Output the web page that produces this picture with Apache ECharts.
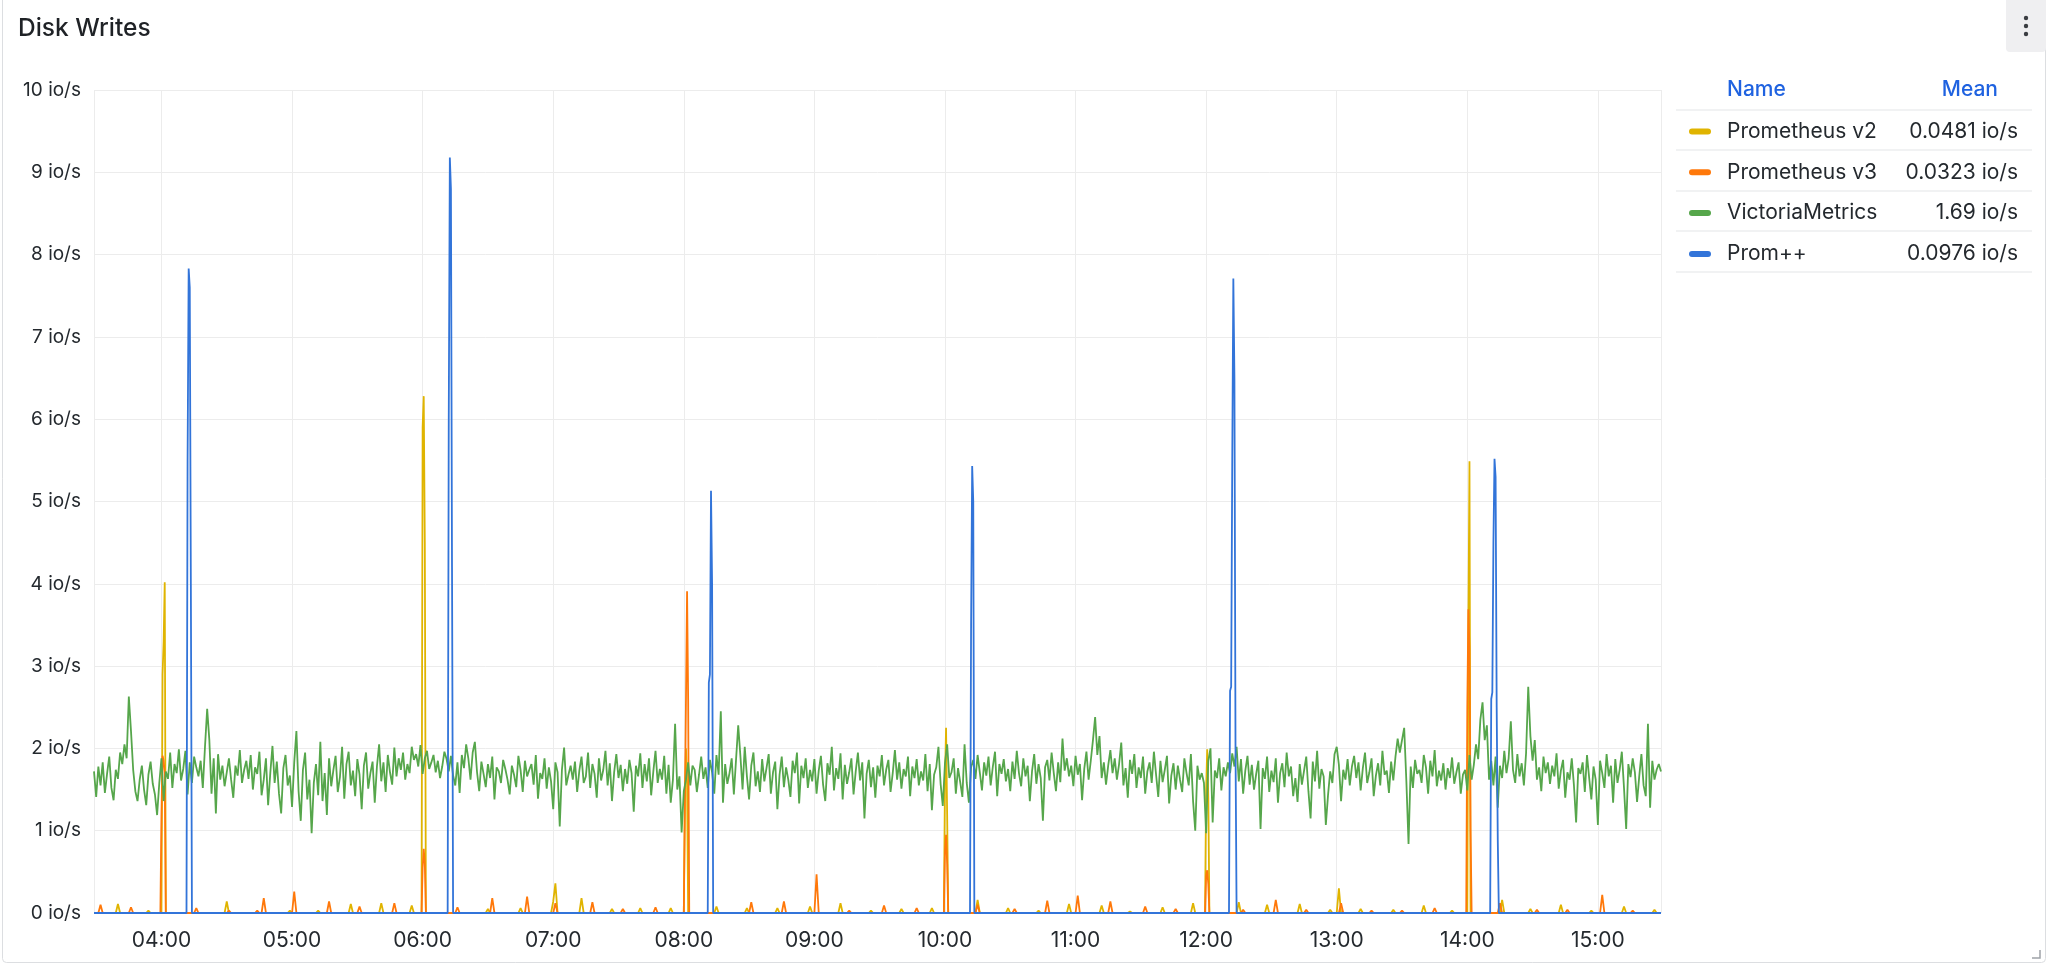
<!DOCTYPE html>
<html>
<head>
<meta charset="utf-8">
<script src="https://cdn.jsdelivr.net/npm/echarts@6/dist/echarts.min.js"></script>
<style>
html,body{margin:0;padding:0;background:#fff;}
#chart{width:2048px;height:964px;}
</style>
</head>
<body>
<div id="chart"></div>
<script>
// ---------------- DATA ----------------
const panelTitle = 'Disk Writes';
const seriesNames = ['Prometheus v2', 'Prometheus v3', 'VictoriaMetrics', 'Prom++'];
const seriesColors = ['#E0B400', '#FF780A', '#56A64B', '#3274D9'];
const legendMeans = ['0.0481 io/s', '0.0323 io/s', '1.69 io/s', '0.0976 io/s'];
const yTicks = [0, 1, 2, 3, 4, 5, 6, 7, 8, 9, 10];
const xRange = ['03:29', '15:29'];

// VictoriaMetrics: one sample per minute starting at 03:29
const vmStart = '03:29';
const vmStepMinutes = 1;
const vmValues = [
1.72,1.41,1.78,1.55,1.83,1.46,1.69,1.90,1.52,1.37,
1.74,1.63,1.95,1.81,2.05,1.88,2.63,2.21,1.74,1.48,
1.36,1.62,1.79,1.50,1.31,1.68,1.84,1.57,1.44,1.19,
1.58,1.88,1.36,1.72,1.63,1.95,1.52,1.81,1.70,1.99,
1.61,1.75,1.97,1.44,1.83,1.58,1.90,1.77,1.66,1.85,
1.52,2.02,2.48,2.10,1.45,1.88,1.21,1.93,1.62,1.79,
1.54,1.71,1.88,1.62,1.40,1.79,1.67,1.98,1.58,1.74,
1.85,1.63,1.92,1.50,1.77,1.69,1.96,1.43,1.62,1.88,
1.31,1.70,2.03,1.58,1.84,1.45,1.21,1.76,1.92,1.55,
1.67,1.29,1.83,2.21,1.48,1.12,1.74,1.95,1.38,1.62,
0.97,1.58,1.81,1.43,2.08,1.36,1.70,1.19,1.88,1.54,
1.74,1.91,1.47,1.65,2.02,1.39,1.81,1.96,1.55,1.73,
1.42,1.87,1.68,1.26,1.79,1.95,1.51,1.70,1.84,1.34,
1.78,2.05,1.60,1.83,1.47,1.92,1.71,1.56,2.01,1.66,
1.88,1.74,1.95,1.62,1.81,1.70,2.02,1.86,1.93,1.78,
2.04,1.69,1.88,1.97,1.75,1.83,1.92,1.71,1.85,1.64,
1.78,1.96,1.87,1.72,1.91,1.67,1.55,1.83,1.46,1.92,
1.76,2.05,1.88,1.62,1.95,2.08,1.71,1.48,1.84,1.69,
1.53,1.81,1.64,1.90,1.38,1.77,1.72,1.58,1.86,1.75,
1.62,1.44,1.79,1.68,1.53,1.91,1.74,1.47,1.85,1.66,
1.74,1.81,1.56,1.92,1.39,1.70,1.63,1.88,1.51,1.77,
1.60,1.26,1.83,1.71,1.05,1.74,2.01,1.55,1.68,1.79,
1.62,1.84,1.47,1.73,1.90,1.58,1.66,1.95,1.52,1.81,
1.69,1.40,1.88,1.61,1.74,1.97,1.55,1.82,1.36,1.71,
1.93,1.64,1.80,1.48,1.75,1.57,1.86,1.70,1.23,1.79,
1.66,1.94,1.52,1.81,1.60,1.88,1.43,1.72,1.97,1.58,
1.75,1.62,1.91,1.45,1.80,1.34,1.62,2.30,1.50,1.66,
0.98,1.48,1.62,1.83,1.55,1.79,1.74,1.47,1.68,1.90,
1.63,1.77,1.52,1.86,1.71,1.45,1.92,1.68,2.45,1.34,
1.81,1.57,1.70,1.88,1.44,1.86,2.28,1.91,1.50,2.02,
1.66,1.38,1.79,1.95,1.54,1.72,1.47,1.87,1.60,1.76,
1.93,1.45,1.71,1.84,1.26,1.68,1.90,1.53,1.77,1.62,
1.41,1.85,1.70,1.95,1.33,1.79,1.64,1.88,1.52,1.74,
1.60,1.87,1.45,1.73,1.91,1.56,1.36,1.82,1.68,2.02,
1.49,1.76,1.63,1.94,1.38,1.80,1.57,1.71,1.88,1.44,
1.72,1.95,1.61,1.83,1.15,1.69,1.86,1.53,1.77,1.40,
1.79,1.66,1.92,1.55,1.74,1.86,1.47,1.70,1.98,1.62,
1.83,1.51,1.75,1.66,1.90,1.42,1.78,1.64,1.87,1.55,
1.72,1.61,1.93,1.48,1.81,1.25,1.68,1.77,2.02,1.57,
1.30,1.82,2.05,1.64,1.71,1.88,1.45,1.76,1.59,1.41,
2.05,1.58,1.34,1.77,1.86,1.63,1.92,1.71,1.49,1.83,
1.67,1.90,1.55,1.78,1.96,1.42,1.81,1.69,1.87,1.60,
1.75,1.48,1.84,1.63,1.97,1.70,1.54,1.88,1.66,1.79,
1.36,1.72,1.93,1.57,1.81,1.64,1.12,1.77,1.86,1.61,
1.95,1.70,1.48,1.83,1.59,2.12,1.73,1.88,1.66,1.79,
1.54,1.91,1.68,1.81,1.37,1.75,1.96,1.62,1.85,2.10,
2.38,1.92,2.15,1.64,1.83,1.56,1.79,1.98,1.70,1.88,
1.62,1.81,2.07,1.55,1.76,1.40,1.86,1.69,1.93,1.52,
1.77,1.64,1.90,1.45,1.72,1.83,1.58,1.96,1.68,1.41,
1.85,1.59,1.74,1.91,1.33,1.67,1.82,1.50,1.79,1.62,
1.47,1.88,1.70,1.55,1.93,1.36,1.00,1.79,1.62,1.70,
1.58,0.97,1.85,2.00,1.10,1.73,1.64,1.88,1.49,1.77,
1.66,1.83,1.70,1.94,1.78,2.02,1.60,1.87,1.45,1.73,
1.91,1.56,1.80,1.50,1.69,1.85,1.02,1.76,1.63,1.90,
1.47,1.73,1.59,1.88,1.34,1.70,1.82,1.53,1.95,1.66,
1.78,1.42,1.64,1.35,1.81,1.56,1.73,1.90,1.48,1.15,
1.84,1.60,1.97,1.51,1.75,1.66,1.07,1.43,1.72,1.58,
1.93,2.02,1.80,1.36,1.74,1.62,1.87,1.55,1.78,1.91,
1.64,1.83,1.49,1.76,1.95,1.58,1.71,1.88,1.42,1.67,
1.82,1.55,1.97,1.68,1.73,1.46,1.84,1.61,1.90,2.12,
1.95,2.10,2.25,1.60,0.84,1.78,1.52,1.86,1.69,1.74,
1.58,1.92,1.77,1.45,1.85,1.66,1.98,1.54,1.73,1.61,
1.82,1.50,1.76,1.64,1.89,1.57,1.71,1.83,1.45,1.68,
1.74,1.49,1.92,1.62,1.80,2.05,1.87,2.35,2.56,2.10,
2.28,1.62,1.85,1.55,1.90,1.28,1.79,1.64,1.97,1.70,
1.88,2.33,1.74,1.58,1.93,1.66,1.82,1.55,1.94,2.75,
2.15,1.85,2.10,1.62,1.77,1.48,1.90,1.70,1.83,1.57,
1.79,1.66,1.94,1.51,1.73,1.86,1.40,1.71,1.62,1.88,
1.55,1.10,1.76,1.69,1.83,1.47,1.92,1.64,1.38,1.78,
1.62,1.07,1.85,1.70,1.52,1.93,1.66,1.79,1.34,1.87,
1.58,1.74,1.96,1.52,1.02,1.81,1.65,1.88,1.71,1.35,
1.66,1.93,1.55,1.42,2.30,1.28,1.85,1.62,1.74,1.81,
1.72
];

// Prometheus v2 (time, io/s)
const promV2Points = [
['03:29',0],['03:39',0],['03:40',0.11],['03:41',0],['03:53',0],['03:54',0.03],['03:55',0],
['04:00',0],['04:00:30',2.9],['04:01',3.3],['04:01:30',4.02],['04:02',0],
['04:29',0],['04:30',0.14],['04:31',0],['04:58',0],['04:59',0.03],['05:00',0],['05:11',0],['05:12',0.03],['05:13',0],
['05:26',0],['05:27',0.11],['05:28',0],['05:40',0],['05:41',0.12],['05:42',0],['05:54',0],['05:55',0.09],['05:56',0],
['05:59:30',0],['06:00',5.9],['06:00:30',6.28],['06:01',4.5],['06:01:30',0],
['06:29',0],['06:30',0.05],['06:31',0],['06:44',0],['06:45',0.06],['06:46',0],['06:59',0],['07:00',0.14],['07:01',0.36],['07:02',0],
['07:12',0],['07:13',0.18],['07:14',0],['07:26',0],['07:27',0.05],['07:28',0],['07:39',0],['07:40',0.06],['07:41',0],['07:53',0],['07:54',0.06],['07:55',0],
['08:00',0],['08:00:30',1.4],['08:01',2.0],['08:01:30',1.6],['08:02',0],
['08:14',0],['08:15',0.08],['08:16',0],['08:28',0],['08:29',0.06],['08:30',0],['08:42',0],['08:43',0.06],['08:44',0],['08:57',0],['08:58',0.08],['08:59',0],
['09:11',0],['09:12',0.12],['09:13',0],['09:25',0],['09:26',0.03],['09:27',0],['09:39',0],['09:40',0.05],['09:41',0],['09:53',0],['09:54',0.06],['09:55',0],
['09:59:30',0],['10:00',1.6],['10:00:30',2.25],['10:01',1.2],['10:01:30',0],
['10:14',0],['10:15',0.16],['10:16',0],['10:28',0],['10:29',0.06],['10:30',0],['10:42',0],['10:43',0.03],['10:44',0],['10:56',0],['10:57',0.11],['10:58',0],
['11:11',0],['11:12',0.09],['11:13',0],['11:24',0],['11:25',0.02],['11:26',0],['11:39',0],['11:40',0.07],['11:41',0],['11:53',0],['11:54',0.12],['11:55',0],
['11:59:30',0],['12:00',1.5],['12:00:30',1.99],['12:01',1.4],['12:01:30',0],
['12:14',0],['12:15',0.13],['12:16',0],['12:27',0],['12:28',0.10],['12:29',0],['12:42',0],['12:43',0.11],['12:44',0],['12:56',0],['12:57',0.04],['12:58',0],['13:00',0],['13:01',0.30],['13:02',0],
['13:10',0],['13:11',0.05],['13:12',0],['13:25',0],['13:26',0.04],['13:27',0],['13:39',0],['13:40',0.09],['13:41',0],['13:52',0],['13:53',0.03],['13:54',0],
['14:00',0],['14:00:30',3.5],['14:01',5.49],['14:01:30',0],
['14:15',0],['14:16',0.16],['14:17',0],['14:28',0],['14:29',0.05],['14:30',0],['14:42',0],['14:43',0.10],['14:44',0],['14:56',0],['14:57',0.03],['14:58',0],
['15:11',0],['15:12',0.08],['15:13',0],['15:25',0],['15:26',0.04],['15:27',0],['15:29',0]
];

// Prometheus v3 (time, io/s)
const promV3Points = [
['03:29',0],['03:31',0],['03:32',0.10],['03:33',0],['03:45',0],['03:46',0.07],['03:47',0],
['03:59:30',0],['04:00',1.2],['04:00:30',1.91],['04:01',1.85],['04:01:30',1.7],['04:02',0],
['04:15',0],['04:16',0.06],['04:17',0],['04:30',0],['04:31',0.03],['04:32',0],['04:43',0],['04:44',0.03],['04:45',0],['04:46',0],['04:47',0.18],['04:48',0],
['05:00',0],['05:01',0.26],['05:02',0],['05:16',0],['05:17',0.14],['05:18',0],['05:30',0],['05:31',0.08],['05:32',0],['05:46',0],['05:47',0.12],['05:48',0],
['05:59:30',0],['06:00',0.55],['06:00:30',0.78],['06:01',0.6],['06:01:30',0],
['06:15',0],['06:16',0.07],['06:17',0],['06:31',0],['06:32',0.18],['06:33',0],['06:47',0],['06:48',0.20],['06:49',0],['07:00',0],['07:01',0.12],['07:02',0],
['07:17',0],['07:18',0.13],['07:19',0],['07:31',0],['07:32',0.05],['07:33',0],['07:46',0],['07:47',0.07],['07:48',0],
['08:00',0],['08:01',2.6],['08:01:30',3.91],['08:02',2.6],['08:02:30',0],
['08:30',0],['08:31',0.13],['08:32',0],['08:45',0],['08:46',0.14],['08:47',0],['09:00',0],['09:01',0.47],['09:02',0],
['09:15',0],['09:16',0.03],['09:17',0],['09:31',0],['09:32',0.09],['09:33',0],['09:46',0],['09:47',0.06],['09:48',0],
['09:59:30',0],['10:00',0.75],['10:00:30',0.95],['10:01',0.6],['10:01:30',0],
['10:14',0],['10:15',0.10],['10:16',0],['10:31',0],['10:32',0.05],['10:33',0],['10:46',0],['10:47',0.15],['10:48',0],
['11:00',0],['11:01',0.21],['11:02',0],['11:15',0],['11:16',0.14],['11:17',0],['11:31',0],['11:32',0.08],['11:33',0],['11:45',0],['11:46',0.05],['11:47',0],
['11:59:30',0],['12:00',0.45],['12:00:30',0.52],['12:01',0.35],['12:01:30',0],
['12:16',0],['12:17',0.04],['12:18',0],['12:31',0],['12:32',0.16],['12:33',0],['12:45',0],['12:46',0.04],['12:47',0],['13:01',0],['13:02',0.12],['13:03',0],
['13:15',0],['13:16',0.03],['13:17',0],['13:29',0],['13:30',0.03],['13:31',0],['13:44',0],['13:45',0.06],['13:46',0],
['13:59:30',0],['14:00',2.5],['14:00:30',3.69],['14:01',3.2],['14:01:30',1.0],['14:02',0],
['14:14',0],['14:15',0.12],['14:16',0],['14:31',0],['14:32',0.04],['14:33',0],['14:45',0],['14:46',0.04],['14:47',0],
['15:01',0],['15:02',0.22],['15:03',0],['15:15',0],['15:16',0.03],['15:17',0],['15:29',0]
];

// Prom++ (time, io/s)
const promPPPoints = [
['03:29',0],
['04:11:30',0],['04:12',5.5],['04:12:30',7.83],['04:13',7.6],['04:13:30',4.0],['04:14',0],
['06:11:30',0],['06:12',6.0],['06:12:30',9.18],['06:13',8.8],['06:13:30',4.2],['06:14',0],
['08:11',0],['08:11:30',2.8],['08:12',2.9],['08:12:30',5.13],['08:13',4.0],['08:13:30',0],
['10:11:30',0],['10:12',3.5],['10:12:30',5.43],['10:13',5.0],['10:13:30',0],
['12:10:30',0],['12:11',2.7],['12:11:30',2.75],['12:12',5.5],['12:12:30',7.71],['12:13',6.5],['12:13:30',2.0],['12:14',0],
['14:10:30',0],['14:11',2.6],['14:11:30',2.68],['14:12',4.5],['14:12:30',5.52],['14:13',5.3],['14:13:30',2.5],['14:14',0.89],['14:14:30',0],
['15:29',0]
];

// ---------------- BUILD ----------------
function ts(s) {
  const p = s.split(':').map(Number);
  return new Date(2025, 0, 15, p[0], p[1], p[2] || 0).getTime();
}
const vmT0 = ts(vmStart);
const vmData = vmValues.map((v, i) => [vmT0 + i * vmStepMinutes * 60000, v]);
const toData = pts => pts.map(p => [ts(p[0]), p[1]]);
const seriesData = [toData(promV2Points), toData(promV3Points), vmData, toData(promPPPoints)];
const meanByName = {};
seriesNames.forEach((n, i) => meanByName[n] = legendMeans[i]);

const FONT = 'Inter, "Noto Sans", sans-serif';
const TXT = '#24292e';
const chart = echarts.init(document.getElementById('chart'), null, {renderer: 'canvas'});

const sepY = [110, 150, 191, 231, 272];
const graphics = [
  {type: 'rect', shape: {x: 2.5, y: -6, width: 2043, height: 968.5, r: 4}, style: {fill: 'none', stroke: '#dcdee1', lineWidth: 1}, z: -10},
  {type: 'rect', shape: {x: 2006, y: -6, width: 40, height: 58, r: 4}, style: {fill: '#efeff1'}, z: 1},
  {type: 'circle', shape: {cx: 2026, cy: 18, r: 2.2}, style: {fill: '#3a3d42'}, z: 2},
  {type: 'circle', shape: {cx: 2026, cy: 26, r: 2.2}, style: {fill: '#3a3d42'}, z: 2},
  {type: 'circle', shape: {cx: 2026, cy: 34, r: 2.2}, style: {fill: '#3a3d42'}, z: 2},
  {type: 'polyline', shape: {points: [[2040, 950], [2040, 958], [2032, 958]]}, style: {stroke: '#9ea3a8', lineWidth: 1.5, fill: 'none'}},
  {type: 'text', left: 1727, top: 79, style: {text: 'Name', font: '500 21px ' + FONT, fill: '#1F62E0'}},
  {type: 'text', right: 2048 - 1998, top: 79, style: {text: 'Mean', font: '500 21px ' + FONT, fill: '#1F62E0', textAlign: 'right'}}
];
sepY.forEach(y => graphics.push({type: 'line', shape: {x1: 1676, y1: y, x2: 2032, y2: y}, style: {stroke: '#e4e5e7', lineWidth: 1.2}}));

const option = {
  animation: false,
  backgroundColor: '#ffffff',
  title: {text: panelTitle, left: 13, top: 11, textStyle: {fontFamily: FONT, fontSize: 24.5, fontWeight: 500, color: '#1f2226'}},
  grid: {left: 94, right: 387, top: 90, bottom: 51, containLabel: false},
  legend: {
    orient: 'vertical', left: 1684, top: 116, itemGap: 19.8,
    itemWidth: 22, itemHeight: 6,
    icon: 'path://M3,0 L19,0 A3,3 0 0 1 19,6 L3,6 A3,3 0 0 1 3,0 Z',
    selectedMode: false,
    data: seriesNames,
    formatter: name => '{n|' + name + '}{m|' + meanByName[name] + '}',
    textStyle: {
      fontFamily: FONT, fontSize: 21, color: TXT,
      rich: {
        n: {fontFamily: FONT, fontSize: 21, color: TXT, width: 160, padding: [0, 0, 0, 11], lineHeight: 24},
        m: {fontFamily: FONT, fontSize: 21, color: TXT, width: 131, align: 'right', lineHeight: 24}
      }
    }
  },
  xAxis: {
    type: 'time', min: ts(xRange[0]), max: ts(xRange[1]),
    minInterval: 3600000, maxInterval: 3600000,
    axisLine: {show: false}, axisTick: {show: false},
    splitLine: {show: true, lineStyle: {color: '#ececec', width: 1}},
    axisLabel: {
      fontFamily: FONT, fontSize: 21, color: TXT, margin: 17, hideOverlap: false,
      formatter: v => { const d = new Date(v); return String(d.getHours()).padStart(2, '0') + ':' + String(d.getMinutes()).padStart(2, '0'); }
    }
  },
  yAxis: {
    type: 'value', min: yTicks[0], max: yTicks[yTicks.length - 1], interval: 1,
    axisLine: {show: false}, axisTick: {show: false},
    splitLine: {show: true, lineStyle: {color: '#ececec', width: 1}},
    axisLabel: {fontFamily: FONT, fontSize: 19, color: TXT, margin: 13, formatter: '{value} io/s'}
  },
  series: seriesNames.map((n, i) => ({
    name: n, type: 'line', data: seriesData[i], showSymbol: false, symbol: 'none',
    color: seriesColors[i], lineStyle: {width: 1.8, color: seriesColors[i]},
    emphasis: {disabled: true}, z: 2 + i
  })),
  graphic: graphics
};
chart.setOption(option);
</script>
</body>
</html>
